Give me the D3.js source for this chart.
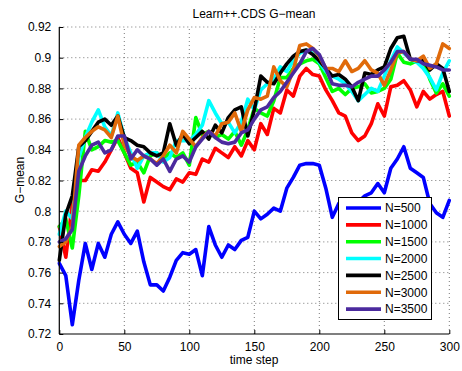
<!DOCTYPE html>
<html>
<head>
<meta charset="utf-8">
<script src="https://cdn.jsdelivr.net/npm/d3@7"></script>
<style>
  html, body { margin: 0; padding: 0; background: #fff; }
  svg { display: block; font-family: "Liberation Sans", Arial, Helvetica, sans-serif; }
</style>
</head>
<body>
<svg id="chart" width="462" height="371"></svg>
<script>
// ---- data ----
const timeSteps = d3.range(0, 301, 5);
const seriesNames = ["N=500", "N=1000", "N=1500", "N=2000", "N=2500", "N=3000", "N=3500"];
const seriesColors = ["#0000ff", "#ff0000", "#00ff00", "#00ffff", "#000000", "#e06a0a", "#4b2a9e"];
const xTicks = [0, 50, 100, 150, 200, 250, 300];
const yTicks = [0.72, 0.74, 0.76, 0.78, 0.80, 0.82, 0.84, 0.86, 0.88, 0.90, 0.92];
const yTickLabels = ["0.72", "0.74", "0.76", "0.78", "0.8", "0.82", "0.84", "0.86", "0.88", "0.9", "0.92"];

const n500 = [0.766,0.758,0.726,0.755,0.779,0.762,0.779,0.770,0.785,0.793,0.785,0.779,0.787,0.767,0.752,0.752,0.748,0.757,0.768,0.773,0.772,0.775,0.758,0.790,0.778,0.770,0.778,0.775,0.781,0.783,0.800,0.795,0.798,0.802,0.800,0.815,0.822,0.830,0.831,0.831,0.830,0.815,0.796,0.805,0.808,0.804,0.806,0.810,0.812,0.818,0.812,0.828,0.834,0.842,0.828,0.825,0.822,0.805,0.799,0.796,0.807];
const n1000 = [0.790,0.770,0.805,0.820,0.820,0.827,0.826,0.832,0.840,0.848,0.838,0.828,0.825,0.806,0.822,0.819,0.816,0.814,0.821,0.819,0.825,0.824,0.834,0.832,0.841,0.838,0.835,0.842,0.836,0.846,0.840,0.857,0.850,0.867,0.864,0.879,0.875,0.888,0.893,0.889,0.888,0.879,0.872,0.864,0.862,0.851,0.846,0.849,0.857,0.870,0.862,0.881,0.882,0.885,0.879,0.868,0.878,0.873,0.876,0.878,0.862];
const n1500 = [0.790,0.795,0.776,0.810,0.852,0.840,0.842,0.846,0.845,0.846,0.838,0.830,0.832,0.825,0.836,0.838,0.834,0.838,0.835,0.838,0.830,0.861,0.850,0.852,0.848,0.850,0.847,0.852,0.843,0.853,0.867,0.864,0.862,0.872,0.887,0.887,0.893,0.896,0.898,0.899,0.896,0.887,0.878,0.880,0.876,0.880,0.881,0.883,0.877,0.878,0.880,0.886,0.903,0.897,0.896,0.898,0.898,0.886,0.877,0.883,0.875];
const n2000 = [0.785,0.800,0.795,0.835,0.848,0.858,0.866,0.855,0.849,0.864,0.848,0.838,0.828,0.836,0.838,0.838,0.832,0.835,0.846,0.846,0.846,0.850,0.856,0.872,0.864,0.857,0.858,0.851,0.858,0.873,0.866,0.879,0.883,0.886,0.894,0.891,0.898,0.903,0.905,0.903,0.897,0.891,0.888,0.886,0.883,0.878,0.872,0.876,0.880,0.878,0.888,0.898,0.907,0.903,0.899,0.897,0.893,0.887,0.879,0.890,0.898];
const n2500 = [0.768,0.798,0.810,0.842,0.846,0.852,0.858,0.860,0.856,0.862,0.848,0.846,0.843,0.842,0.838,0.836,0.838,0.857,0.843,0.850,0.844,0.848,0.852,0.847,0.856,0.851,0.861,0.866,0.868,0.849,0.866,0.888,0.884,0.883,0.890,0.896,0.901,0.904,0.905,0.902,0.898,0.893,0.888,0.889,0.886,0.881,0.872,0.890,0.889,0.892,0.894,0.906,0.913,0.914,0.899,0.898,0.898,0.892,0.896,0.893,0.878];
const n3000 = [0.777,0.780,0.790,0.843,0.848,0.852,0.855,0.853,0.848,0.862,0.843,0.836,0.833,0.836,0.834,0.831,0.836,0.843,0.838,0.852,0.847,0.842,0.848,0.852,0.849,0.857,0.858,0.864,0.852,0.866,0.874,0.873,0.875,0.894,0.885,0.881,0.892,0.908,0.909,0.906,0.901,0.893,0.893,0.891,0.898,0.891,0.893,0.898,0.892,0.890,0.882,0.892,0.903,0.904,0.899,0.898,0.901,0.893,0.896,0.909,0.906];
const n3500 = [0.780,0.782,0.788,0.826,0.836,0.843,0.845,0.838,0.840,0.849,0.849,0.834,0.840,0.836,0.834,0.830,0.834,0.826,0.834,0.836,0.832,0.842,0.847,0.852,0.848,0.845,0.844,0.845,0.851,0.853,0.860,0.866,0.868,0.874,0.878,0.884,0.890,0.896,0.904,0.906,0.902,0.893,0.883,0.882,0.882,0.881,0.884,0.886,0.888,0.888,0.892,0.897,0.904,0.904,0.899,0.899,0.896,0.895,0.894,0.892,0.892];

const seriesValues = [n500, n1000, n1500, n2000, n2500, n3000, n3500];

// ---- layout ----
const svg = d3.select("#chart");
const plotL = 59.3, plotR = 449.3, plotT = 27, plotB = 334;
const x = d3.scaleLinear().domain([0, 300]).range([plotL, plotR]);
const y = d3.scaleLinear().domain([0.72, 0.92]).range([plotB, plotT]);

// grid
const grid = svg.append("g").attr("stroke", "#555").attr("stroke-width", 0.8)
  .attr("stroke-dasharray", "1,3");
xTicks.filter(d => d > 0).forEach(d => {
  grid.append("line").attr("x1", x(d)).attr("x2", x(d)).attr("y1", plotB).attr("y2", plotT);
});
yTicks.filter(d => d > 0.72).forEach(d => {
  grid.append("line").attr("x1", plotL).attr("x2", plotR).attr("y1", y(d)).attr("y2", y(d));
});

// lines
const line = d3.line().x((d, i) => x(timeSteps[i])).y(d => y(d));
seriesValues.forEach((vals, k) => {
  svg.append("path").datum(vals)
    .attr("d", line)
    .attr("fill", "none")
    .attr("stroke", seriesColors[k])
    .attr("stroke-width", 3.6)
    .attr("stroke-linejoin", "round")
    .attr("stroke-linecap", "round");
});

// axes
const xAxis = d3.axisBottom(x).tickValues(xTicks).tickSize(-4).tickPadding(8);
const yAxis = d3.axisLeft(y).tickValues(yTicks).tickSize(-4).tickPadding(8)
  .tickFormat((d, i) => yTickLabels[i]);

const gx = svg.append("g").attr("transform", `translate(0,${plotB})`).call(xAxis);
const gy = svg.append("g").attr("transform", `translate(${plotL},0)`).call(yAxis);
[gx, gy].forEach(g => {
  g.select(".domain").attr("stroke", "#000").attr("stroke-width", 1.2);
  g.selectAll(".tick line").attr("stroke", "#000").attr("stroke-width", 1);
  g.selectAll(".tick text").attr("fill", "#000").attr("font-size", 12)
    .attr("font-family", "'Liberation Sans', Arial, sans-serif");
});
gx.select(".domain").attr("d", `M${plotL},0H${plotR}`);
gy.select(".domain").attr("d", `M0,${plotB}V${plotT}`);

// titles
svg.append("text").attr("x", 254).attr("y", 18).attr("text-anchor", "middle")
  .attr("font-size", 12).text("Learn++.CDS G\u2212mean");
svg.append("text").attr("x", 254).attr("y", 364).attr("text-anchor", "middle")
  .attr("font-size", 12).text("time step");
svg.append("text").attr("transform", "translate(24,180) rotate(-90)")
  .attr("text-anchor", "middle").attr("font-size", 12).text("G\u2212mean");

// legend
const lg = svg.append("g");
lg.append("rect").attr("x", 338.5).attr("y", 197.5).attr("width", 93).attr("height", 122)
  .attr("fill", "#fff").attr("stroke", "#000").attr("stroke-width", 1);
seriesNames.forEach((name, i) => {
  const yy = 208 + i * 16.85;
  lg.append("line").attr("x1", 346).attr("x2", 381).attr("y1", yy).attr("y2", yy)
    .attr("stroke", seriesColors[i]).attr("stroke-width", 3.6);
  lg.append("text").attr("x", 385).attr("y", yy + 4.3).attr("font-size", 12).text(name);
});
</script>
</body>
</html>
